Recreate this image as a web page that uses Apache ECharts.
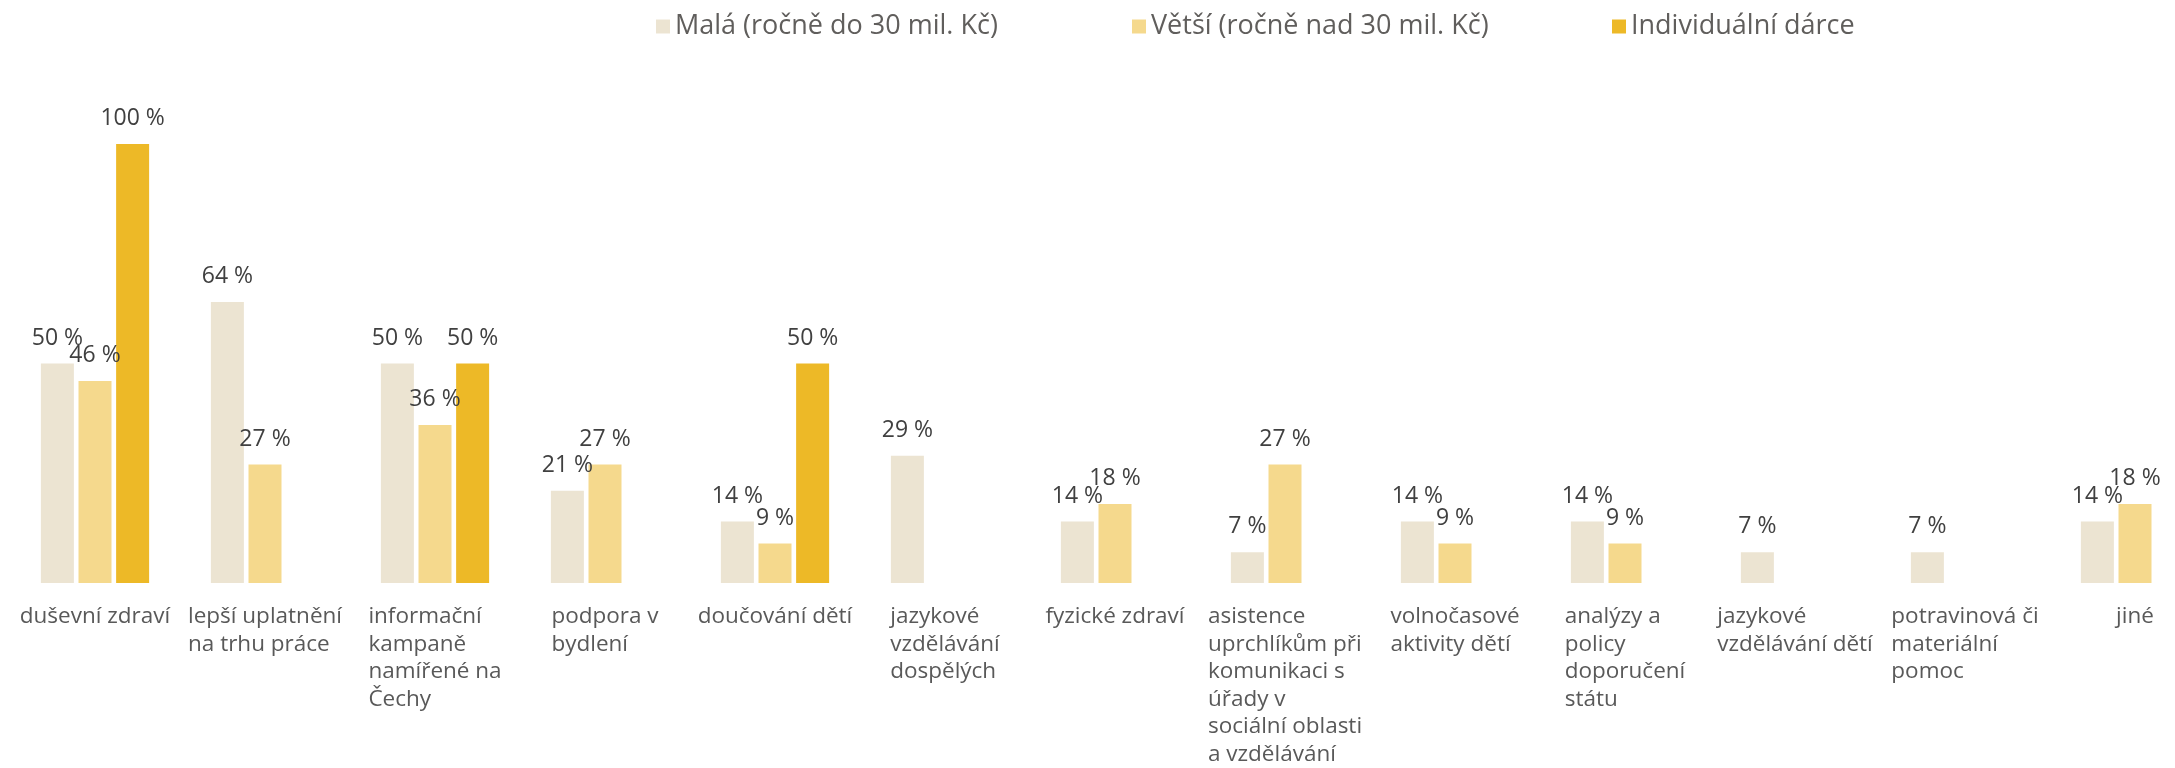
<!DOCTYPE html>
<html>
<head>
<meta charset="utf-8">
<script src="https://cdn.jsdelivr.net/npm/echarts@6/dist/echarts.min.js"></script>
<style>
html,body{margin:0;padding:0;background:#fff;overflow:hidden;}
#chart{width:2175px;height:768px;}
</style>
</head>
<body>
<div id="chart"></div>
<script>
const categories = [
  "duševní zdraví",
  "lepší uplatnění\nna trhu práce",
  "informační\nkampaně\nnamířené na\nČechy",
  "podpora v\nbydlení",
  "doučování dětí",
  "jazykové\nvzdělávání\ndospělých",
  "fyzické zdraví",
  "asistence\nuprchlíkům při\nkomunikaci s\núřady v\nsociální oblasti\na vzdělávání",
  "volnočasové\naktivity dětí",
  "analýzy a\npolicy\ndoporučení\nstátu",
  "jazykové\nvzdělávání dětí",
  "potravinová či\nmateriální\npomoc",
  "jiné"
];
const seriesNames = ["Malá (ročně do 30 mil. Kč)", "Větší (ročně nad 30 mil. Kč)", "Individuální dárce"];
const mala = [50, 64, 50, 21, 14, 29, 14, 7, 14, 14, 7, 7, 14];
const vetsi = [46, 27, 36, 27, 9, null, 18, 27, 9, 9, null, null, 18];
const individualni = [100, null, 50, null, 50, null, null, null, null, null, null, null, null];

const colors = ["#ECE4D2", "#F5D98D", "#EDB927"];
const FONT = "Open Sans";

const chart = echarts.init(document.getElementById('chart'), null, {renderer: 'canvas'});

function legendAt(name, left) {
  return {
    data: [name],
    left: left,
    top: 8,
    itemWidth: 14,
    itemHeight: 14,
    itemGap: 0,
    icon: 'rect',
    textStyle: {fontFamily: FONT, fontSize: 27, color: '#605E5C'},
    selectedMode: false
  };
}

function barSeries(name, data, color) {
  return {
    name: name,
    type: 'bar',
    data: data,
    barWidth: 33,
    barGap: '14%',
    itemStyle: {color: color},
    label: {
      show: true,
      position: 'top',
      distance: 14,
      formatter: p => p.value + ' %',
      fontFamily: FONT,
      fontSize: 23,
      color: '#404040'
    },
    emphasis: {disabled: true}
  };
}

chart.setOption({
  animation: false,
  backgroundColor: '#ffffff',
  color: colors,
  legend: [
    legendAt(seriesNames[0], 651),
    legendAt(seriesNames[1], 1127),
    legendAt(seriesNames[2], 1607)
  ],
  grid: {left: 10, top: 144, width: 2210, bottom: 185, containLabel: false, outerBoundsMode: 'none'},
  xAxis: {
    type: 'category',
    data: categories,
    axisLine: {show: false},
    axisTick: {show: false},
    axisLabel: {
      interval: 0,
      margin: 20,
      hideOverlap: false,
      fontFamily: FONT,
      fontSize: 22.5,
      color: '#595959',
      formatter: v => '{a|' + v + '}',
      rich: {
        a: {align: 'left', fontFamily: FONT, fontSize: 22.5, lineHeight: 27.5, color: '#595959'}
      }
    }
  },
  yAxis: {
    type: 'value',
    min: 0,
    max: 100,
    show: false,
    splitLine: {show: false}
  },
  series: [
    barSeries(seriesNames[0], mala, colors[0]),
    barSeries(seriesNames[1], vetsi, colors[1]),
    barSeries(seriesNames[2], individualni, colors[2])
  ]
});
</script>
</body>
</html>
